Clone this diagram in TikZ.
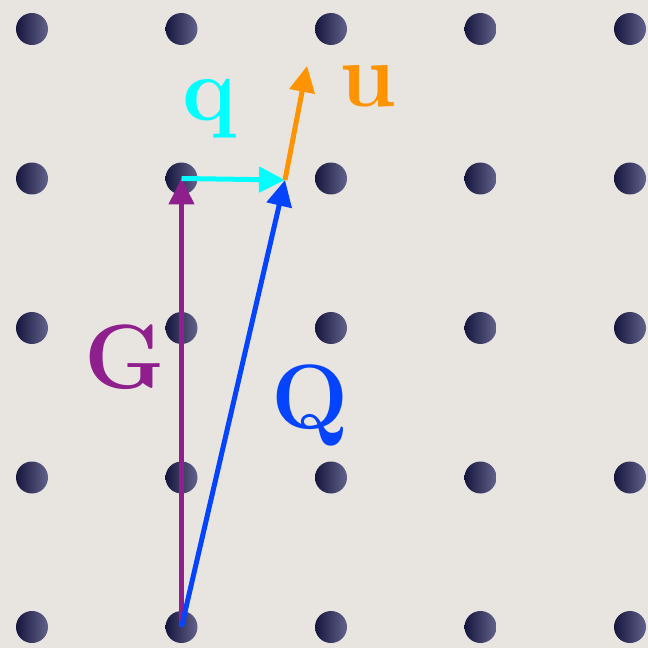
\documentclass[tikz,border=0pt]{standalone}
\usepackage{tikz}
\usepackage{xcolor}
\usetikzlibrary{arrows.meta, positioning, calc}
\definecolor{paper}{HTML}{E8E5E0}
\definecolor{dotDark}{HTML}{15153D}
\definecolor{dotLight}{HTML}{62628A}
\definecolor{gPurple}{HTML}{8E1F8C}
\definecolor{qBlue}{HTML}{0544FF}
\definecolor{qCyan}{HTML}{00FFFF}
\definecolor{uOrange}{HTML}{FF9300}
\tikzset{
  latticeDot/.style = {circle, minimum size=0.64cm, inner sep=0pt,
    left color=dotDark, right color=dotLight},
  vecArrow/.style = {line width=0.1cm, -{Triangle[length=0.52cm, width=0.5cm]}},
  vecG/.style = {vecArrow, draw=gPurple},
  vecQ/.style = {vecArrow, draw=qBlue},
  vecq/.style = {vecArrow, draw=qCyan},
  vecu/.style = {vecArrow, draw=uOrange},
  vecLabel/.style = {anchor=base, inner sep=0pt,
    font=\fontsize{52}{60}\selectfont\bfseries},
}

\begin{document}
\begin{tikzpicture}[x=0.02cm, y=-0.02cm]

\fill[paper] (0,0) rectangle (648,648);
\useasboundingbox (0,0) rectangle (648,648);

\foreach \i in {0,...,4}
  \foreach \j in {0,...,4}
    \node[latticeDot] (d\i\j) at ({32+149.5*\i},{29+149.5*\j}) {};

\coordinate (qEnd) at (285,180);
\coordinate (uEnd) at (307,66);

\draw[vecG] (d14.center) -- (d11.center);
\draw[vecq] (d11.center) -- (qEnd);
\draw[vecQ] (d14.center) -- (qEnd);
\draw[vecu] (qEnd) -- (uEnd);

\node[vecLabel, text=qCyan] (lq) at (210,121) {q};
\node[vecLabel, text=uOrange] (lu) at (368,107) {u};
\node[vecLabel, text=gPurple] (lG) at (125,388) {G};
\node[vecLabel, text=qBlue] (lQ) at (310,428) {Q};

\end{tikzpicture}
\end{document}
